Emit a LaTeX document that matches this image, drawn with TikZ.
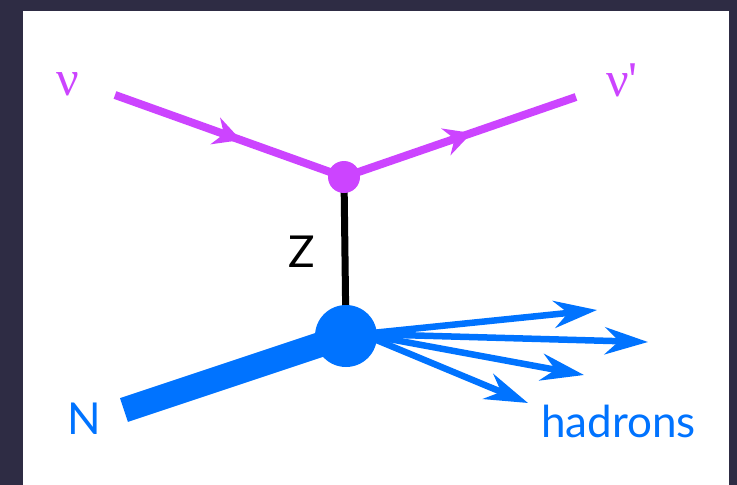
\documentclass[tikz,border=0pt]{standalone}
\usepackage{fontspec}
\setmainfont{Lato}
\newfontfamily\greekfont{Liberation Serif}
\usetikzlibrary{arrows.meta,decorations.markings}

\definecolor{slate}{RGB}{46,44,68}
\definecolor{nucolor}{RGB}{204,68,255}
\definecolor{hadblue}{RGB}{0,115,255}

\pgfdeclarelayer{frame}
\pgfdeclarelayer{lines}
\pgfsetlayers{frame,lines,main}

\begin{document}
\begin{tikzpicture}[x=1pt,y=-1pt,
  lepton/.style={color=nucolor, line width=8pt, postaction={decorate},
    decoration={markings, mark=at position 0.55 with {\arrow{Stealth[length=27pt,width=28pt,inset=9pt]}}}},
  boson/.style={draw=black, line width=7pt},
  nucleon/.style={draw=hadblue, line width=25pt},
  hadron/.style={draw=hadblue, line width=6.5pt, -{Stealth[length=43pt,width=27pt,inset=14pt]}},
  vertex/.style={circle, inner sep=0pt, minimum size=#1},
  greeklabel/.style={text=nucolor, inner sep=0pt, font=\greekfont\fontsize{50}{50}\selectfont},
  sanslabel/.style={inner sep=0pt, anchor=base west, font=\fontsize{44}{44}\selectfont}
]
  % frame
  \begin{pgfonlayer}{frame}
    \fill[slate] (0,0) rectangle (737,485);
    \fill[white] (23,11) rectangle (729,485);
  \end{pgfonlayer}

  % vertices
  \node[vertex=32pt, fill=nucolor] (zvtx) at (344,177) {};
  \node[vertex=62pt, fill=hadblue] (blob) at (346,336) {};

  % free line ends
  \coordinate (nuin) at (115,95);
  \coordinate (nuout) at (576,97);
  \coordinate (nstart) at (124,410);
  \coordinate (fan) at (362,334);
  \coordinate (h1) at (597,310);
  \coordinate (h2) at (648,342);
  \coordinate (h3) at (584,375);
  \coordinate (h4) at (528,403);

  \begin{pgfonlayer}{lines}
    \draw[lepton] (nuin) -- (zvtx.center);
    \draw[lepton] (zvtx.center) -- (nuout);
    \draw[boson] (zvtx.center) -- (blob.center);
    \draw[nucleon] (nstart) -- (blob.center);
    \foreach \h in {h1,h2,h3,h4}
      \draw[hadron] (fan) -- (\h);
  \end{pgfonlayer}

  % labels
  \node[greeklabel] (nulabel) at (68,84) {ν};
  \node[greeklabel] (nuplabel) at (622,80) {ν'};
  \node[sanslabel] (zlabel) at (288,267) {Z};
  \node[sanslabel, text=hadblue] (nlabel) at (67,434) {N};
  \node[sanslabel, text=hadblue] (hlabel) at (541,437) {hadrons};
\end{tikzpicture}
\end{document}
